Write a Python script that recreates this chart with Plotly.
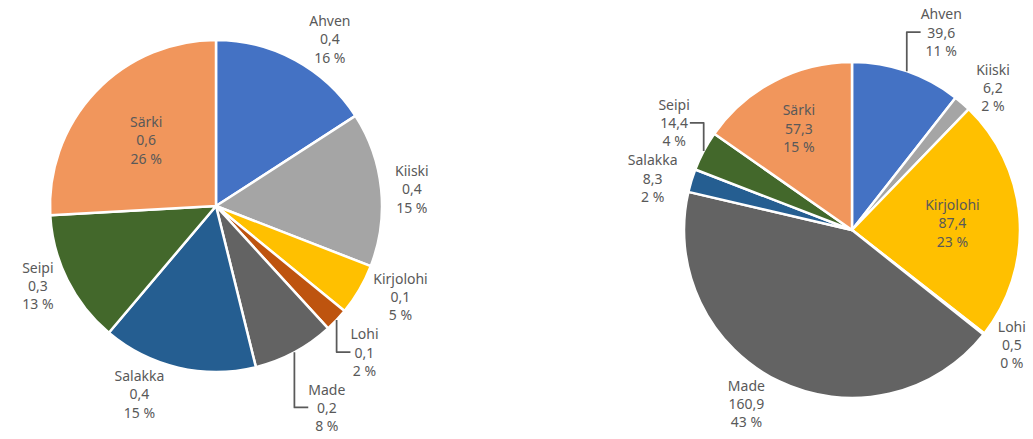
import plotly.graph_objects as go

labels = ["Ahven", "Kiiski", "Kirjolohi", "Lohi", "Made", "Salakka", "Seipi", "Särki"]
left_values = [0.38, 0.36, 0.12, 0.055, 0.19, 0.36, 0.31, 0.62]
right_values = [39.6, 6.2, 87.4, 0.5, 160.9, 8.3, 14.4, 57.3]
colors = ["#4472C4", "#A5A5A5", "#FFC000", "#BE540F", "#636363", "#255E91", "#43682B", "#F1965C"]

left_pos = ["outside", "outside", "outside", "outside", "outside", "outside", "outside", "inside"]
right_pos = ["outside", "outside", "inside", "outside", "outside", "outside", "outside", "inside"]

W, H = 1033, 439


def make_text(vals):
    tot = sum(vals)
    out = []
    for lab, v in zip(labels, vals):
        vs = format(v, ".1f").replace(".", ",")
        p = round(100 * v / tot)
        out.append(f"{lab}<br>{vs}<br>{p} %")
    return out


def dom(cx, cy, r):
    return dict(x=[(cx - r) / W, (cx + r) / W], y=[(H - cy - r) / H, (H - cy + r) / H])


font = dict(family="Noto Sans, Open Sans, sans-serif", size=14, color="#595959")

fig = go.Figure()
for vals, pos, d in [
    (left_values, left_pos, dom(216, 206, 166)),
    (right_values, right_pos, dom(852, 230, 168)),
]:
    fig.add_trace(go.Pie(
        labels=labels, values=vals, text=make_text(vals), textinfo="text",
        textposition=pos, insidetextorientation="horizontal",
        sort=False, direction="clockwise", rotation=0, automargin=False,
        marker=dict(colors=colors, line=dict(color="white", width=2.5)),
        textfont=font, insidetextfont=font, outsidetextfont=font,
        domain=d, showlegend=False, hoverinfo="label+value+percent",
    ))

fig.update_layout(
    width=W, height=H, margin=dict(l=0, r=0, t=0, b=0, autoexpand=False),
    paper_bgcolor="white", plot_bgcolor="white", showlegend=False,
)
fig.write_html(
    "out.html",
    config={"displayModeBar": False},
    post_script="document.body.style.margin='0';document.body.style.overflow='hidden';",
)
